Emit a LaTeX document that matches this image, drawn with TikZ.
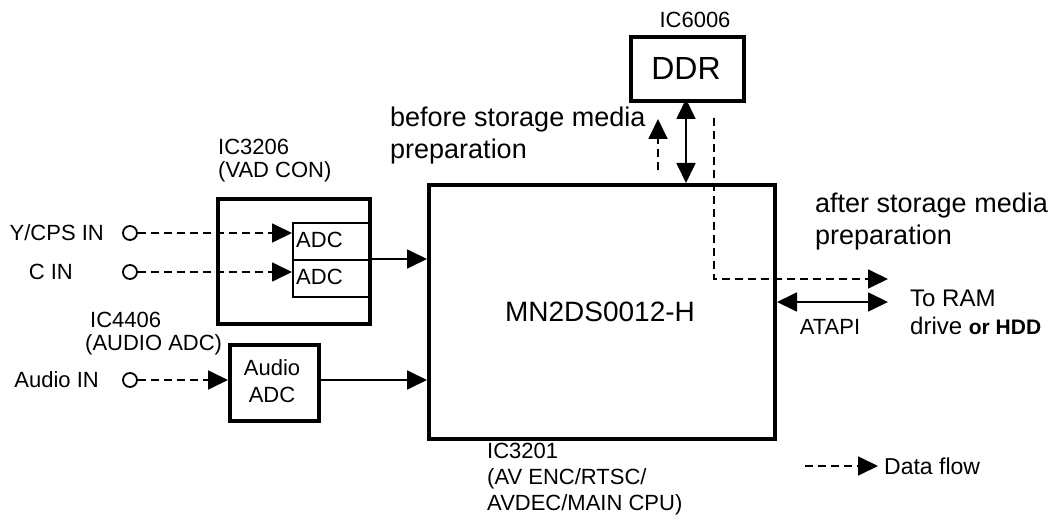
\documentclass[tikz,border=0pt]{standalone}
\usepackage{fontspec}
\setmainfont{Liberation Sans}
\usetikzlibrary{arrows.meta}
\begin{document}
\begin{tikzpicture}[x=1pt,y=-1pt,
  thickbox/.style={draw,line width=4pt,inner sep=0pt},
  thinbox/.style={draw,line width=1.8pt,inner sep=0pt},
  port/.style={draw,circle,line width=1.8pt,minimum size=14pt,inner sep=0pt},
  lbl/.style={inner sep=0pt,font=\fontsize{22}{26}\selectfont},
  biglbl/.style={inner sep=0pt,align=left,font=\fontsize{27}{32}\selectfont},
  conn/.style={line width=1.8pt,-{Triangle[length=20pt,width=19pt]}},
  bconn/.style={line width=1.8pt,{Triangle[length=20pt,width=19pt]}-{Triangle[length=20pt,width=19pt]}},
  dconn/.style={line width=1.8pt,dash pattern=on 8pt off 5pt,-{Triangle[length=20pt,width=19pt]}}]
\useasboundingbox (0,0) rectangle (1055,521);
% main chip
\node[thickbox,minimum width=346pt,minimum height=254pt,anchor=north west] (main) at (427,183) {};
\node[inner sep=0pt,font=\fontsize{28}{32}\selectfont] (mainlbl) at (600,312) {MN2DS0012-H};
\node[lbl,anchor=north west,align=left,font=\fontsize{22}{26}\selectfont] (ic3201) at (487,443) {IC3201\\(AV ENC/RTSC/\\AVDEC/MAIN CPU)};
% VAD CON
\node[thickbox,minimum width=152pt,minimum height=125pt,anchor=north west] (vad) at (216,197) {};
\node[lbl,anchor=west] (ic3206) at (218,147) {IC3206};
\node[lbl,anchor=west] (vadcon) at (218,172) {(VAD CON)};
\node[thinbox,minimum width=76pt,minimum height=37pt,anchor=north west] (adc1) at (292,222) {};
\node[thinbox,minimum width=76pt,minimum height=37pt,anchor=north west] (adc2) at (292,259) {};
\node[lbl,anchor=west] (adc1t) at (296,240) {ADC};
\node[lbl,anchor=west] (adc2t) at (296,277) {ADC};
% Audio ADC
\node[thickbox,minimum width=89pt,minimum height=76pt,anchor=north west] (aadc) at (228,343) {};
\node[lbl,align=center,font=\fontsize{22}{27}\selectfont] (aadct) at (272,381) {Audio\\ADC};
\node[lbl,anchor=west] (ic4406) at (90,320) {IC4406};
\node[lbl,anchor=west] (audioadc) at (85,345) {(AUDIO ADC)};
% inputs
\node[port] (p1) at (130,233) {};
\node[port] (p2) at (130,272) {};
\node[port] (p3) at (130,380) {};
\node[lbl,anchor=east] (l1) at (104,233) {Y/CPS IN};
\node[lbl,anchor=east] (l2) at (73,272) {C IN};
\node[lbl,anchor=east] (l3) at (99,380) {Audio IN};
\draw[dconn] (p1.east) -- (adc1.west |- p1);
\draw[dconn] (p2.east) -- (adc2.west |- p2);
\draw[dconn] (p3.east) -- (aadc.west |- p3);
\coordinate (vadout) at (368,259);
\draw[conn] (vadout) -- (main.west |- vadout);
\draw[conn] (aadc.east |- p3) -- (main.west |- p3);
% DDR
\node[thickbox,minimum width=113pt,minimum height=64pt,anchor=north west] (ddr) at (629,35) {};
\node[inner sep=0pt,font=\fontsize{32}{36}\selectfont] (ddrt) at (686,68) {DDR};
\node[lbl] (ic6006) at (695,20) {IC6006};
\coordinate (ddrb) at (686,99);
\draw[bconn] (ddrb) -- (ddrb |- main.north);
\coordinate (bs) at (658,170);
\coordinate (bt) at (658,119);
\draw[dconn] (bs) -- (bt);
\node[biglbl,anchor=west] (before) at (390,136) {before storage media\\preparation};
% after storage
\coordinate (as) at (714,118);
\coordinate (ac) at (714,279);
\coordinate (ae) at (888,279);
\draw[dconn] (as) -- (ac) -- (ae);
\node[biglbl,anchor=west] (after) at (815,222) {after storage media\\preparation};
\coordinate (atapiE) at (888,302);
\draw[bconn] (main.east |- atapiE) -- (atapiE);
\node[lbl] (atapi) at (830,327) {ATAPI};
\node[inner sep=0pt,anchor=west,font=\fontsize{24}{29}\selectfont] (toram) at (910,298) {To RAM};
\node[inner sep=0pt,anchor=west,font=\fontsize{24}{29}\selectfont] (drive) at (910,326) {drive \fontsize{21}{25}\selectfont\bfseries or HDD};
% legend
\coordinate (lgs) at (805,466);
\coordinate (lge) at (878,466);
\draw[dconn] (lgs) -- (lge);
\node[lbl,anchor=west,font=\fontsize{23}{27}\selectfont] (legend) at (884,466) {Data flow};
\end{tikzpicture}
\end{document}
